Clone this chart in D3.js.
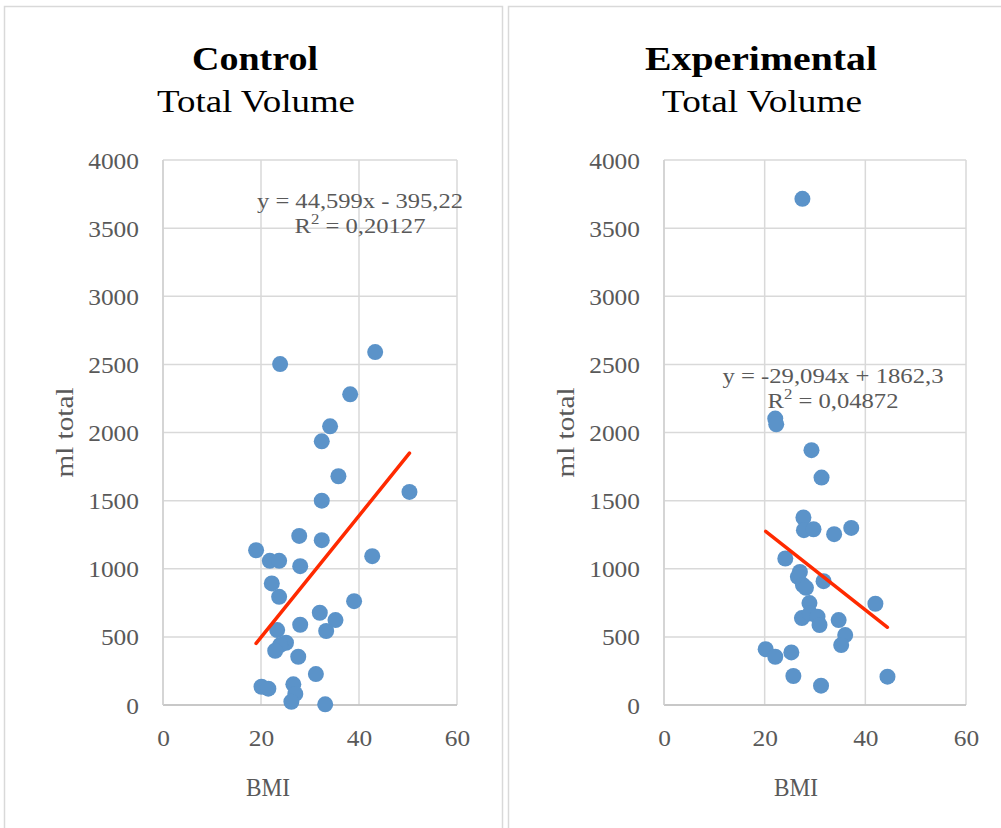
<!DOCTYPE html>
<html>
<head>
<meta charset="utf-8">
<script src="https://cdn.jsdelivr.net/npm/d3@7"></script>
<style>
  body { margin: 0; background: #fff; }
  text { font-family: "Liberation Serif", "DejaVu Serif", serif; }
  .tick text { fill: #595959; font-size: 23px; font-family: "Liberation Serif", serif; }
  .grid line { stroke: #d9d9d9; stroke-width: 1.5; }
</style>
</head>
<body>
<script>
const width = 1001;
const height = 828;

// data
const controlBmi = [34.1, 32.4, 35.8, 50.3, 32.4, 27.8, 32.4, 19.0, 21.8, 23.7, 42.7, 28.0, 22.2,
  23.7, 39.0, 32.0, 35.2, 28.0, 33.3, 23.3, 25.1, 23.9, 22.9, 27.6, 31.2, 20.1, 21.5, 26.6,
  27.0, 26.2, 33.1, 23.9, 43.3, 38.2];
const controlVolume = [2045, 1935, 1679, 1564, 1500, 1241, 1210, 1136, 1058, 1058, 1092, 1019, 892,
  794, 762, 677, 623, 589, 543, 550, 457, 440, 398, 354, 227, 134, 120, 152,
  81, 24, 5, 2502, 2590, 2280];
const expBmi = [27.5, 22.1, 22.3, 29.3, 31.3, 27.7, 27.8, 29.7, 33.8, 37.2, 24.1, 27.0, 26.6, 31.7,
  27.6, 28.2, 28.9, 42.0, 27.4, 29.0, 30.5, 30.9, 34.7, 36.0, 35.2, 20.2, 22.1, 25.3,
  25.7, 31.2, 44.4];
const expVolume = [3715, 2102, 2060, 1870, 1669, 1376, 1283, 1290, 1254, 1300, 1075, 977, 941, 909,
  880, 860, 748, 743, 638, 672, 648, 587, 623, 513, 440, 410, 354, 386,
  213, 142, 208];

const xTicks = [0, 20, 40, 60];
const yTicks = [0, 500, 1000, 1500, 2000, 2500, 3000, 3500, 4000];

const panels = [
  { title: 'Control', subtitle: 'Total Volume', bmi: controlBmi, vol: controlVolume,
    slope: 44.599, intercept: -395.22, eq: 'y = 44,599x - 395,22', r2: '0,20127',
    box: [4, 6, 498], plot: [163, 457], titleX: 255, titleW: 126, subW: 198,
    eqX: 360, eqY: 208, eqW: 206, r2W: 131, bmiX: 268 },
  { title: 'Experimental', subtitle: 'Total Volume', bmi: expBmi, vol: expVolume,
    slope: -29.094, intercept: 1862.3, eq: 'y = -29,094x + 1862,3', r2: '0,04872',
    box: [508, 6, 498], plot: [664, 966], titleX: 761, titleW: 232, subW: 200,
    eqX: 833, eqY: 383, eqW: 221, r2W: 131, bmiX: 796 }
];

const svg = d3.select('body')
  .append('svg')
  .attr('width', width)
  .attr('height', height);

panels.forEach(p => {
  const g = svg.append('g');

  // panel frame
  g.append('rect')
    .attr('x', p.box[0] + 0.5)
    .attr('y', p.box[1] + 0.5)
    .attr('width', p.box[2])
    .attr('height', height + 10)
    .attr('fill', '#fff')
    .attr('stroke', '#d9d9d9')
    .attr('stroke-width', 1.5);

  const x = d3.scaleLinear().domain([0, 60]).range(p.plot);
  const y = d3.scaleLinear().domain([0, 4000]).range([705, 160]);

  // titles
  g.append('text')
    .attr('x', p.titleX)
    .attr('y', 70)
    .attr('text-anchor', 'middle')
    .attr('font-size', 34)
    .attr('font-weight', 'bold')
    .attr('textLength', p.titleW)
    .attr('lengthAdjust', 'spacingAndGlyphs')
    .text(p.title);
  g.append('text')
    .attr('x', p.titleX + 1)
    .attr('y', 112)
    .attr('text-anchor', 'middle')
    .attr('font-size', 32)
    .attr('textLength', p.subW)
    .attr('lengthAdjust', 'spacingAndGlyphs')
    .text(p.subtitle);

  // grid
  g.append('g')
    .attr('class', 'grid')
    .selectAll('line')
    .data(yTicks)
    .join('line')
    .attr('x1', p.plot[0]).attr('x2', p.plot[1])
    .attr('y1', d => y(d)).attr('y2', d => y(d));
  g.append('g')
    .attr('class', 'grid')
    .selectAll('line')
    .data(xTicks)
    .join('line')
    .attr('x1', d => x(d)).attr('x2', d => x(d))
    .attr('y1', y(0)).attr('y2', y(4000));

  // axes
  const yAxis = g.append('g')
    .attr('transform', `translate(${p.plot[0] - 24},0)`)
    .call(d3.axisLeft(y).tickValues(yTicks).tickSize(0).tickFormat(d3.format('d')));
  yAxis.select('.domain').remove();
  yAxis.selectAll('text')
    .attr('x', 0)
    .attr('dy', '0.35em')
    .attr('textLength', d => String(d).length * 12.7)
    .attr('lengthAdjust', 'spacingAndGlyphs');

  const xAxis = g.append('g')
    .attr('transform', `translate(0,${y(0)})`)
    .call(d3.axisBottom(x).tickValues(xTicks).tickSize(0));
  xAxis.select('.domain').remove();
  xAxis.selectAll('text')
    .attr('y', 41)
    .attr('dy', 0)
    .attr('textLength', d => String(d).length * 12.7)
    .attr('lengthAdjust', 'spacingAndGlyphs');

  g.append('line')
    .attr('x1', p.plot[0]).attr('x2', p.plot[1])
    .attr('y1', y(0)).attr('y2', y(0))
    .attr('stroke', '#bfbfbf').attr('stroke-width', 1.5);
  g.append('line')
    .attr('x1', p.plot[0]).attr('x2', p.plot[0])
    .attr('y1', y(0)).attr('y2', y(4000))
    .attr('stroke', '#d0d0d0').attr('stroke-width', 1.5);

  // axis titles
  g.append('text')
    .attr('transform', `translate(${p.plot[0] - 90},${y(2000)}) rotate(-90)`)
    .attr('text-anchor', 'middle')
    .attr('font-size', 26)
    .attr('fill', '#595959')
    .attr('textLength', 90)
    .attr('lengthAdjust', 'spacingAndGlyphs')
    .text('ml total');
  g.append('text')
    .attr('x', p.bmiX)
    .attr('y', 796)
    .attr('text-anchor', 'middle')
    .attr('font-size', 26)
    .attr('fill', '#595959')
    .attr('textLength', 44)
    .attr('lengthAdjust', 'spacingAndGlyphs')
    .text('BMI');

  // points
  const pts = p.bmi.map((b, i) => ({ b, v: p.vol[i] }));
  g.append('g')
    .selectAll('circle')
    .data(pts)
    .join('circle')
    .attr('cx', d => x(d.b))
    .attr('cy', d => y(d.v))
    .attr('r', 8)
    .attr('fill', '#5b93c9');

  // linear trend line over the data range
  const ext = d3.extent(p.bmi);
  g.append('line')
    .attr('x1', x(ext[0])).attr('y1', y(p.slope * ext[0] + p.intercept))
    .attr('x2', x(ext[1])).attr('y2', y(p.slope * ext[1] + p.intercept))
    .attr('stroke', '#ff2a00')
    .attr('stroke-width', 3.5)
    .attr('stroke-linecap', 'round');

  // equation label
  g.append('text')
    .attr('x', p.eqX)
    .attr('y', p.eqY)
    .attr('text-anchor', 'middle')
    .attr('font-size', 22)
    .attr('fill', '#595959')
    .attr('textLength', p.eqW)
    .attr('lengthAdjust', 'spacingAndGlyphs')
    .text(p.eq);
  const r2 = g.append('text')
    .attr('x', p.eqX)
    .attr('y', p.eqY + 25)
    .attr('text-anchor', 'middle')
    .attr('font-size', 22)
    .attr('fill', '#595959')
    .attr('textLength', p.r2W)
    .attr('lengthAdjust', 'spacingAndGlyphs');
  r2.append('tspan').text('R');
  r2.append('tspan').attr('dy', -9).attr('font-size', 15).text('2');
  r2.append('tspan').attr('dy', 9).text(' = ' + p.r2);
});
</script>
</body>
</html>
